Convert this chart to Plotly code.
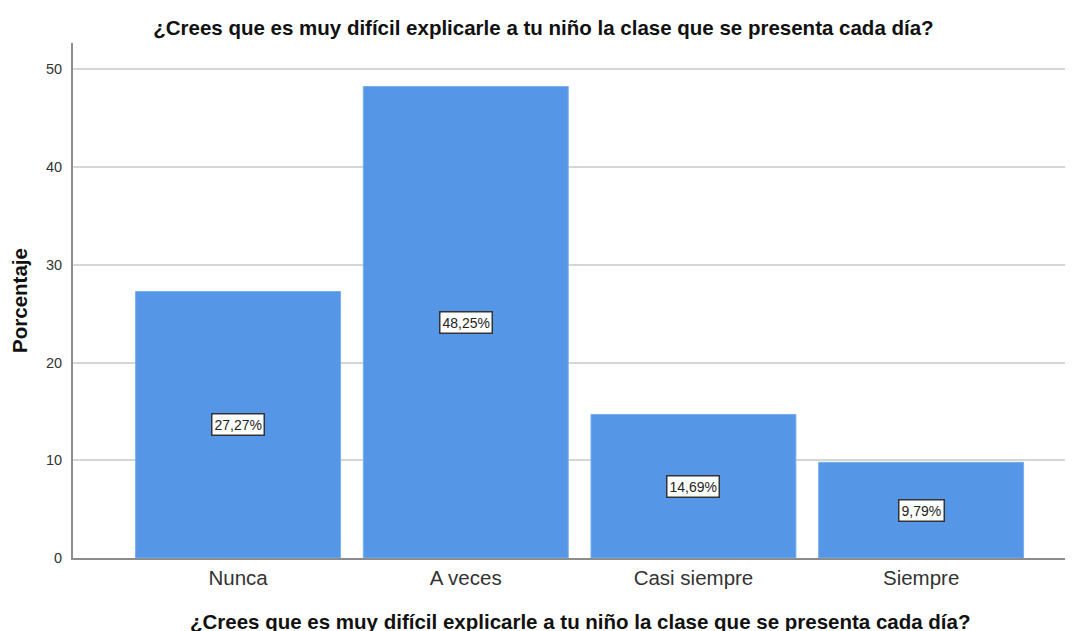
import plotly.graph_objects as go

categories = ["Nunca", "A veces", "Casi siempre", "Siempre"]
values = [27.27, 48.25, 14.69, 9.79]
labels = ["27,27%", "48,25%", "14,69%", "9,79%"]
title_text = "¿Crees que es muy difícil explicarle a tu niño la clase que se presenta cada día?"

fig = go.Figure()
fig.add_trace(go.Bar(
    x=categories, y=values, width=0.9,
    marker=dict(color="#5596E6", line=dict(color="#7aaeee", width=1)),
    hoverinfo="skip",
))

for c, v, t in zip(categories, values, labels):
    fig.add_annotation(
        x=c, y=v / 2, text=t, showarrow=False,
        font=dict(family="Liberation Sans, Arial", size=14, color="#222"),
        bgcolor="white", bordercolor="#333", borderwidth=1.5, borderpad=2,
    )

# x-axis title as annotation
fig.add_annotation(
    text="<b>" + title_text + "</b>", xref="paper", yref="paper",
    x=0.5065, y=-63 / 515, xanchor="center", yanchor="middle", showarrow=False,
    font=dict(family="Liberation Sans, Arial", size=20.5, color="#111"),
)

fig.update_layout(
    width=1073, height=631,
    margin=dict(l=65, r=8, t=35, b=81),
    paper_bgcolor="white", plot_bgcolor="white",
    font=dict(family="Liberation Sans, Arial", color="#222"),
    title=dict(text="<b>" + title_text + "</b>", x=0.499, xanchor="center",
               y=1 - 20 / 631, yanchor="middle",
               font=dict(size=20.5, color="#111")),
    showlegend=False,
    bargap=0.1,
)
fig.update_xaxes(
    range=[-0.725, 3.667],
    showline=True, linecolor="#8c8c8c", linewidth=2,
    ticks="", tickfont=dict(size=20.5, color="#333"),
    showgrid=False,
)
fig.update_yaxes(
    range=[0, 52.7],
    tickvals=[0, 10, 20, 30, 40, 50],
    showline=True, linecolor="#8c8c8c", linewidth=2,
    gridcolor="#d6d6d6", gridwidth=1.5,
    ticks="", ticklabelstandoff=6,
    tickfont=dict(size=14.5, color="#333"),
    zeroline=False,
    title=dict(text="<b>Porcentaje</b>", font=dict(size=20.5, color="#111"), standoff=14),
)

fig.write_html("out.html")
